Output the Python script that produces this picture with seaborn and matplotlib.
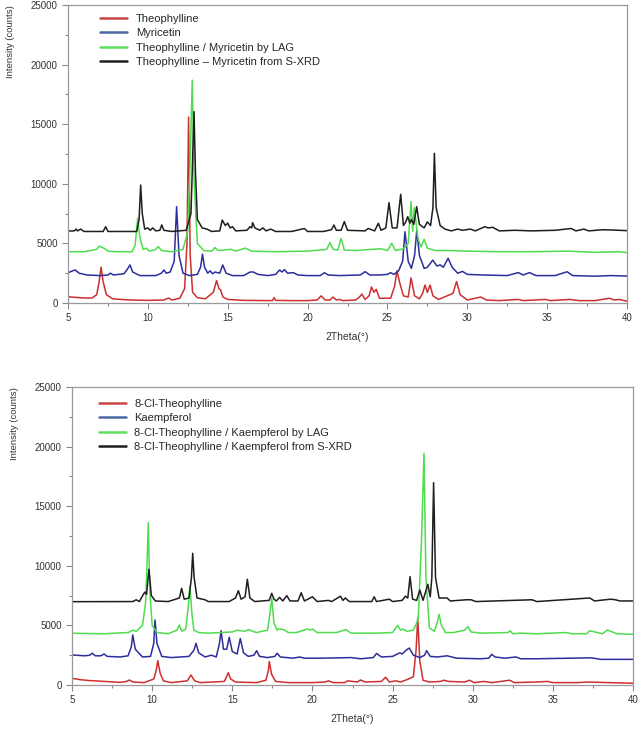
import matplotlib
matplotlib.use("Agg")
import pandas as pd
import seaborn as sns
from matplotlib import pyplot as plt
from matplotlib.lines import Line2D
from matplotlib.ticker import MultipleLocator

# ---- top panel: Theophylline / Myricetin (vertices) ----
theo_x = [5.0, 5.5, 6.0, 6.5, 6.8, 6.95, 7.07, 7.2, 7.4, 7.8, 8.5, 9.0, 10.0, 11.0, 11.3, 11.5, 12.0, 12.3,
          12.45, 12.55, 12.65, 12.8, 13.1, 13.6, 14.1, 14.3, 14.45, 14.55, 14.7, 15.0, 16.0, 17.8, 17.9, 18.0,
          19.0, 20.0, 20.6, 20.85, 21.1, 21.4, 21.6, 21.8, 22.0, 22.2, 23.0, 23.25, 23.4, 23.6, 23.85, 24.0,
          24.15, 24.3, 24.5, 25.2, 25.45, 25.6, 25.75, 26.0, 26.3, 26.48, 26.7, 27.0, 27.2, 27.35, 27.5, 27.67,
          27.85, 28.2, 29.1, 29.33, 29.55, 30.0, 30.85, 31.2, 32.0, 33.2, 33.5, 34.9, 35.2, 36.4, 37.0, 38.0,
          38.9, 39.2, 39.5, 40.0]
theo_y = [520, 470, 420, 420, 700, 1800, 3000, 1800, 700, 350, 280, 250, 220, 250, 420, 250, 400, 1200,
          5000, 15600, 4000, 900, 450, 350, 900, 1880, 1200, 1100, 500, 300, 220, 200, 450, 220,
          200, 200, 250, 600, 250, 250, 500, 250, 300, 200, 250, 500, 750, 300, 600, 1350,
          900, 1150, 400, 400, 1400, 2700, 1800, 600, 500, 2100, 600, 350, 800, 1500, 900, 1500,
          600, 300, 800, 1800, 700, 250, 500, 250, 200, 300, 200, 300, 200, 300, 200, 200,
          400, 250, 300, 150]

myr_x = [5.0, 5.3, 5.45, 5.7, 6.2, 7.0, 7.5, 7.65, 7.85, 8.5, 8.75, 8.88, 9.05, 9.5, 10.5, 10.85, 11.0, 11.15,
         11.4, 11.65, 11.8, 11.95, 12.2, 12.6, 13.1, 13.3, 13.42, 13.55, 13.75, 13.9, 14.05, 14.2, 14.5, 14.69,
         14.9, 15.3, 16.0, 16.4, 16.6, 16.9, 17.5, 18.0, 18.25, 18.4, 18.55, 18.75, 19.1, 19.4, 20.0, 20.8,
         21.05, 21.3, 22.0, 23.3, 23.6, 23.9, 24.5, 25.0, 25.2, 25.4, 25.7, 25.95, 26.1, 26.3, 26.5, 26.7,
         26.84, 27.0, 27.3, 27.5, 27.84, 28.1, 28.3, 28.5, 28.8, 29.05, 29.4, 29.7, 30.0, 31.0, 32.5, 33.2,
         33.5, 33.9, 34.3, 35.5, 36.25, 36.6, 38.0, 39.0, 40.0]
myr_y = [2540, 2700, 2770, 2500, 2350, 2300, 2350, 2500, 2350, 2450, 2900, 3190, 2600, 2300, 2300, 2500, 2770, 2500,
         2600, 3500, 8080, 4000, 2500, 2300, 2400, 3000, 4100, 3000, 2500, 2700, 2450, 2600, 2500, 3190,
         2500, 2300, 2300, 2600, 2600, 2400, 2300, 2400, 2770, 2600, 2800, 2500, 2550, 2350, 2300, 2300,
         2540, 2350, 2300, 2350, 2630, 2350, 2350, 2400, 2550, 2400, 2700, 3500, 5980, 3500, 2900, 4000,
         6120, 4000, 2900, 3000, 3600, 3100, 3200, 3000, 3750, 3000, 2500, 2650, 2400, 2350, 2300, 2550,
         2350, 2550, 2300, 2300, 2620, 2300, 2250, 2300, 2260]

lag1_x = [5.0, 6.0, 6.8, 6.95, 7.05, 7.25, 7.5, 8.0, 9.0, 9.2, 9.36, 9.5, 9.7, 9.9, 10.1, 10.5, 10.65, 10.85,
          11.5, 12.2, 12.5, 12.65, 12.78, 12.9, 13.1, 13.5, 14.0, 14.2, 14.4, 15.2, 15.5, 16.1, 16.5, 18.0,
          20.0, 21.2, 21.4, 21.6, 21.9, 22.1, 22.3, 23.0, 24.0, 24.6, 25.0, 25.27, 25.5, 26.0, 26.3, 26.48,
          26.58, 26.68, 26.9, 27.1, 27.3, 27.5, 28.0, 29.0, 30.0, 32.0, 34.0, 36.3, 38.0, 39.5, 40.0]
lag1_y = [4300, 4300, 4500, 4780, 4700, 4600, 4350, 4300, 4300, 4800, 7100, 5500, 4500, 4600, 4350, 4500, 4730, 4400,
          4300, 4500, 6000, 12000, 18700, 10000, 5000, 4400, 4350, 4650, 4400, 4500, 4350, 4600, 4350, 4300,
          4350, 4500, 5060, 4500, 4450, 5430, 4450, 4400, 4500, 4550, 4400, 5010, 4400, 4550, 5000, 8500,
          6000, 8000, 5500, 4700, 5340, 4600, 4400, 4400, 4350, 4300, 4300, 4350, 4250, 4300, 4220]

sx1_x = [5.0, 5.4, 5.5, 5.6, 5.8, 6.0, 7.2, 7.36, 7.5, 9.3, 9.45, 9.55, 9.65, 9.8, 10.0, 10.15, 10.3, 10.5,
         10.75, 10.87, 11.0, 11.5, 12.4, 12.7, 12.8, 12.89, 12.98, 13.1, 13.4, 13.7, 14.0, 14.5, 14.66, 14.85,
         15.0, 15.15, 15.3, 15.5, 16.2, 16.4, 16.5, 16.56, 16.7, 17.0, 17.2, 17.4, 17.7, 18.0, 19.0, 19.8,
         20.0, 21.0, 21.5, 21.65, 21.8, 22.1, 22.3, 22.5, 23.6, 23.8, 24.2, 24.43, 24.6, 24.9, 25.1, 25.3,
         25.6, 25.83, 26.0, 26.15, 26.27, 26.4, 26.5, 26.65, 26.83, 27.0, 27.3, 27.5, 27.7, 27.85, 27.94, 28.05,
         28.3, 28.6, 29.0, 29.4, 29.7, 30.2, 30.5, 31.1, 31.3, 31.6, 32.0, 33.0, 34.0, 35.5, 36.5, 36.8,
         37.3, 37.6, 38.5, 39.5, 40.0]
sx1_y = [6040, 6050, 6200, 6050, 6200, 6000, 6000, 6400, 6000, 6000, 7000, 9900, 7500, 6200, 6300, 6100, 6300, 6050,
         6100, 6550, 6100, 6000, 6100, 7500, 12000, 16050, 11000, 7000, 6300, 6200, 6000, 6050, 6960, 6500,
         6700, 6300, 6400, 6050, 6100, 6400, 6300, 6740, 6300, 6100, 6300, 6050, 6200, 6000, 6000, 6250,
         6000, 6000, 6150, 6540, 6100, 6100, 6830, 6100, 6050, 6250, 6050, 6690, 6100, 6300, 8420, 6300,
         6300, 9120, 6500, 6800, 7240, 6700, 7000, 6600, 8080, 6600, 6300, 6800, 6500, 8000, 12560, 8000,
         6500, 6200, 6050, 6200, 6100, 6200, 6050, 6400, 6300, 6350, 6050, 6100, 6050, 6100, 6250, 6050,
         6200, 6050, 6150, 6100, 6070]

# ---- bottom panel: 8-Cl-Theophylline / Kaempferol ----
clt_x = [5.0, 5.5, 6.0, 7.0, 8.0, 8.4, 8.58, 8.8, 9.5, 10.1, 10.25, 10.35, 10.5, 10.7, 11.2, 12.2, 12.42, 12.65,
         13.0, 14.5, 14.65, 14.75, 14.9, 15.2, 16.5, 17.1, 17.25, 17.31, 17.45, 17.7, 18.5, 20.0, 20.8, 21.0,
         21.3, 22.0, 22.2, 22.8, 23.0, 23.3, 24.3, 24.57, 24.8, 25.2, 25.5, 25.9, 26.3, 26.47, 26.57, 26.7,
         26.9, 27.3, 28.0, 28.2, 28.5, 29.5, 29.8, 30.1, 30.7, 31.2, 32.3, 32.6, 33.9, 34.7, 35.0, 36.5,
         37.2, 38.5, 40.0]
clt_y = [560, 450, 380, 300, 220, 300, 420, 250, 200, 500, 1200, 2040, 1000, 350, 200, 350, 840, 350,
         200, 300, 700, 1030, 500, 250, 200, 400, 1200, 1960, 900, 300, 200, 200, 250, 350,
         200, 200, 350, 250, 420, 250, 300, 650, 250, 350, 250, 450, 700, 3000, 5600, 2000,
         400, 250, 300, 400, 300, 250, 400, 200, 300, 200, 400, 200, 250, 300, 200, 200,
         250, 200, 150]

kae_x = [5.0, 5.8, 6.1, 6.27, 6.45, 6.8, 7.0, 7.2, 8.0, 8.5, 8.7, 8.79, 8.95, 9.4, 9.9, 10.1, 10.18, 10.3,
         10.6, 11.2, 12.3, 12.6, 12.74, 12.9, 13.3, 13.7, 14.0, 14.2, 14.3, 14.45, 14.65, 14.81, 15.0, 15.3,
         15.5, 15.7, 16.0, 16.35, 16.52, 16.7, 17.2, 17.65, 17.8, 18.0, 18.8, 19.2, 19.5, 20.5, 22.4, 23.0,
         23.8, 24.0, 24.3, 25.0, 25.46, 25.6, 25.83, 26.04, 26.3, 26.7, 27.0, 27.12, 27.35, 27.8, 28.4, 29.0,
         30.5, 31.0, 31.18, 31.4, 32.0, 32.7, 33.0, 34.0, 37.4, 38.0, 40.0]
kae_y = [2520, 2450, 2500, 2660, 2450, 2450, 2600, 2400, 2350, 2450, 3200, 4200, 3000, 2350, 2400, 3500, 5450, 3500,
         2400, 2300, 2400, 2900, 3500, 2700, 2350, 2500, 2350, 3500, 4560, 3000, 3000, 4000, 2800, 2600,
         3900, 2700, 2400, 2500, 2880, 2400, 2300, 2400, 2660, 2350, 2250, 2350, 2250, 2250, 2300, 2200,
         2300, 2650, 2350, 2400, 2700, 2600, 2900, 3100, 2500, 2300, 2500, 2880, 2400, 2350, 2450, 2250,
         2200, 2250, 2570, 2350, 2250, 2350, 2200, 2200, 2280, 2150, 2150]

lag2_x = [5.0, 7.0, 8.5, 8.8, 9.0, 9.4, 9.6, 9.7, 9.76, 9.85, 10.0, 10.3, 11.0, 11.55, 11.69, 11.85, 12.1, 12.25,
          12.36, 12.48, 12.6, 12.9, 13.5, 15.0, 15.3, 15.8, 16.0, 16.5, 17.2, 17.35, 17.46, 17.6, 17.8, 17.9,
          18.2, 18.5, 19.0, 19.7, 19.85, 20.0, 20.3, 21.5, 22.1, 22.4, 24.0, 25.0, 25.31, 25.5, 25.65, 25.9,
          26.3, 26.6, 26.8, 26.96, 27.08, 27.3, 27.6, 27.78, 27.9, 28.05, 28.3, 28.8, 29.5, 29.7, 29.9, 30.5,
          32.2, 32.33, 32.5, 33.0, 34.0, 35.8, 36.2, 37.1, 37.3, 38.1, 38.4, 39.0, 40.0]
lag2_y = [4340, 4300, 4400, 4600, 4500, 5000, 7000, 11000, 13620, 8000, 5000, 4400, 4300, 4600, 5030, 4500, 4700, 6500,
          8300, 6000, 4600, 4400, 4350, 4450, 4600, 4500, 4650, 4400, 4600, 6000, 7300, 5200, 4600, 4700,
          4650, 4400, 4400, 4700, 4600, 4700, 4400, 4400, 4650, 4350, 4350, 4400, 5000, 4600, 4700, 4500,
          4600, 5500, 12000, 19430, 9000, 4800, 4500, 5200, 5930, 5000, 4400, 4400, 4600, 4900, 4450, 4350,
          4400, 4550, 4300, 4350, 4300, 4400, 4300, 4300, 4550, 4300, 4610, 4300, 4250]

sx2_x = [5.0, 8.8, 9.0, 9.2, 9.45, 9.55, 9.65, 9.8, 9.95, 10.2, 11.0, 11.7, 11.84, 12.0, 12.3, 12.45, 12.53, 12.62,
         12.8, 13.3, 13.5, 14.8, 15.2, 15.38, 15.55, 15.8, 15.94, 16.1, 16.4, 17.3, 17.46, 17.6, 17.75, 17.95,
         18.15, 18.4, 18.6, 19.1, 19.3, 19.5, 20.0, 20.3, 21.0, 21.2, 21.75, 21.9, 22.05, 22.3, 23.7, 23.85,
         24.0, 24.8, 25.0, 25.6, 25.8, 25.95, 26.09, 26.25, 26.5, 26.7, 26.9, 27.2, 27.35, 27.45, 27.56, 27.68,
         27.9, 28.4, 28.6, 29.6, 29.9, 30.2, 33.7, 34.0, 37.3, 37.6, 38.6, 38.9, 39.2, 40.0]
sx2_y = [6990, 7000, 7150, 7000, 7600, 7800, 7600, 9710, 7500, 7050, 7000, 7300, 8110, 7200, 7300, 9000, 11050, 9000,
         7300, 7150, 7000, 7000, 7300, 7910, 7200, 7400, 8870, 7300, 7000, 7100, 7690, 7200, 7050, 7350,
         7050, 7500, 7050, 7050, 7740, 7050, 7400, 7000, 7100, 7000, 7450, 7100, 7300, 7000, 7000, 7400,
         7000, 7200, 7000, 7100, 7450, 7300, 9090, 7200, 7100, 7970, 7100, 8450, 7400, 9000, 16970, 9000,
         7300, 7300, 7050, 7150, 7150, 7000, 7150, 7000, 7300, 7050, 7200, 7150, 7050, 7050]

top_labels = ["Theophylline", "Myricetin", "Theophylline / Myricetin by LAG",
              "Theophylline \u2013 Myricetin from S-XRD"]
bottom_labels = ["8-Cl-Theophylline", "Kaempferol", "8-Cl-Theophylline / Kaempferol by LAG",
                 "8-Cl-Theophylline / Kaempferol from S-XRD"]
line_colors = ["#cc2f2f", "#2d2d9c", "#4fdc4f", "#1e1e1e"]
legend_colors = ["#c94545", "#4a68a4", "#5ee05e", "#1e1e1e"]

sns.set_style("ticks")
plt.rcParams["font.family"] = ["Liberation Sans", "DejaVu Sans"]


def long_frame(series, labels):
    parts = []
    for (xs, ys), lab in zip(series, labels):
        parts.append(pd.DataFrame({"2theta": xs, "counts": ys, "sample": lab}))
    return pd.concat(parts, ignore_index=True)


def draw_panel(ax, df, labels, legend_anchor):
    sns.lineplot(data=df, x="2theta", y="counts", hue="sample", hue_order=labels,
                 palette=dict(zip(labels, line_colors)), estimator=None, sort=False,
                 linewidth=1.1, legend=False, ax=ax)
    ax.set_xlim(5, 40)
    ax.set_ylim(0, 25000)
    ax.xaxis.set_major_locator(MultipleLocator(5))
    ax.xaxis.set_minor_locator(MultipleLocator(2.5))
    ax.yaxis.set_major_locator(MultipleLocator(5000))
    ax.yaxis.set_minor_locator(MultipleLocator(2500))
    ax.tick_params(which="both", colors="#888888", labelcolor="#333333", labelsize=7, width=0.8)
    ax.tick_params(which="major", length=4)
    ax.tick_params(which="minor", length=2.5)
    for side in ["left", "bottom", "right", "top"]:
        ax.spines[side].set_visible(True)
        ax.spines[side].set_color("#9a9a9a")
        ax.spines[side].set_linewidth(0.9)
    ax.set_xlabel("2Theta(\u00b0)", fontsize=7.5, color="#333333", labelpad=6)
    ax.set_ylabel("Intensity (counts)", fontsize=6.8, color="#333333", loc="top", labelpad=11)
    handles = [Line2D([], [], color=c, lw=1.8) for c in legend_colors]
    ax.legend(handles, labels, loc="upper left", bbox_to_anchor=legend_anchor, frameon=False,
              fontsize=8, handlelength=2.4, handletextpad=0.8, labelspacing=0.4, borderaxespad=0)


fig = plt.figure(figsize=(6.4, 7.32), dpi=100)
ax_top = fig.add_axes([68 / 640, 1 - 303 / 732, 559 / 640, 298 / 732])
ax_bot = fig.add_axes([72 / 640, 1 - 685 / 732, 561 / 640, 298 / 732])

top_df = long_frame([(theo_x, theo_y), (myr_x, myr_y), (lag1_x, lag1_y), (sx1_x, sx1_y)], top_labels)
bot_df = long_frame([(clt_x, clt_y), (kae_x, kae_y), (lag2_x, lag2_y), (sx2_x, sx2_y)], bottom_labels)

draw_panel(ax_top, top_df, top_labels, (0.05, 0.985))
draw_panel(ax_bot, bot_df, bottom_labels, (0.04, 0.975))

fig.savefig("out.png", dpi=100)
